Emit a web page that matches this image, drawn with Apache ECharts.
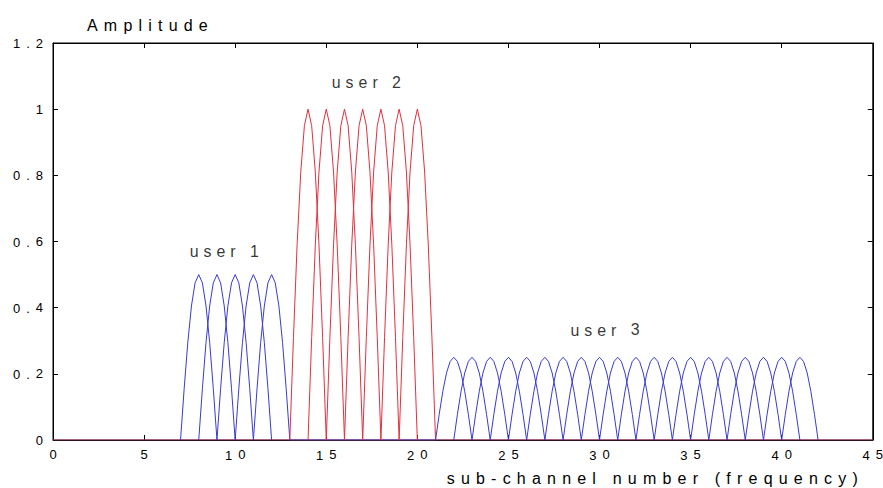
<!DOCTYPE html>
<html>
<head>
<meta charset="utf-8">
<script src="https://cdn.jsdelivr.net/npm/echarts@6/dist/echarts.min.js"></script>
<style>
  html, body { margin: 0; padding: 0; background: #fff; }
  #chart { width: 883px; height: 488px; }
</style>
</head>
<body>
<div id="chart"></div>
<script>
// ---- data ----
const xTicks = [0, 5, 10, 15, 20, 25, 30, 35, 40, 45];
const yTicks = [0, 0.2, 0.4, 0.6, 0.8, 1, 1.2];
// one sub-channel lobe: offsets from its centre and relative height
const lobeOffsets = [-1, -0.8, -0.6, -0.4, -0.2, 0, 0.2, 0.4, 0.6, 0.8, 1];
const lobeShape   = [0, 0.31, 0.59, 0.81, 0.95, 1, 0.95, 0.81, 0.59, 0.31, 0];
const user1Centers = [8, 9, 10, 11, 12];
const user1Amp = 0.5;
const user2Centers = [14, 15, 16, 17, 18, 19, 20];
const user2Amp = 1.0;
const user3Centers = [22, 23, 24, 25, 26, 27, 28, 29, 30, 31, 32, 33, 34, 35, 36, 37, 38, 39, 40, 41];
const user3Amp = 0.25;
const baselineX = [0, 45];
const baselineUnderUser2X = [13, 21];
const userLabels = ['user 1', 'user 2', 'user 3'];
const userLabelX = [9.4, 17.2, 30.3];
const userLabelY = [0.57, 1.082, 0.333];
const xName = 'sub-channel number (frequency)';
const yName = 'Amplitude';

// ---- styles ----
const BLUE = '#3a3ad2';
const RED = '#e2303c';
const BASE = '#c8457c';
const FONT = 'Liberation Sans, Arial, sans-serif';

function lobe(center, amp) {
  return lobeOffsets.map((o, i) => [center + o, amp * lobeShape[i]]);
}
function lobeSeries(centers, amp, color) {
  return centers.map(c => ({
    type: 'line', data: lobe(c, amp), showSymbol: false, silent: true,
    lineStyle: { color: color, width: 1 }, itemStyle: { color: color }
  }));
}

const series = [];
series.push({ type: 'line', data: baselineX.map(x => [x, 0]), showSymbol: false, silent: true,
  lineStyle: { color: BASE, width: 1.2 } });
series.push({ type: 'line', data: baselineUnderUser2X.map(x => [x, 0]), showSymbol: false, silent: true,
  lineStyle: { color: '#5a50c8', width: 1.2 } });
series.push(...lobeSeries(user1Centers, user1Amp, BLUE));
series.push(...lobeSeries(user2Centers, user2Amp, RED));
series.push(...lobeSeries(user3Centers, user3Amp, BLUE));
series.push({
  type: 'scatter', symbolSize: 0, silent: true, xAxisIndex: 1, yAxisIndex: 1,
  data: userLabels.map((t, i) => ({ name: t, value: [userLabelX[i], userLabelY[i]] })),
  label: { show: true, position: 'inside', formatter: '{b}', color: '#000', fontSize: 15.9, fontFamily: FONT }
});

const axisCommon = {
  axisLine: { show: true, onZero: false, lineStyle: { color: '#000', width: 1 } },
  axisTick: { show: true, inside: true, length: 5, lineStyle: { color: '#000' } },
  splitLine: { show: false }
};

const option = {
  animation: false,
  backgroundColor: '#fff',
  grid: { left: 53, right: 10, top: 43, bottom: 48, containLabel: false,
          show: true, borderColor: '#000', borderWidth: 1, backgroundColor: 'transparent' },
  xAxis: [
    Object.assign({
      type: 'value', min: xTicks[0], max: xTicks[xTicks.length - 1], interval: xTicks[1] - xTicks[0],
      position: 'bottom',
      name: xName, nameLocation: 'end', nameGap: -15,
      nameTextStyle: { fontSize: 16, color: '#000', fontFamily: FONT, align: 'right', verticalAlign: 'top', padding: [30, 0, 0, 0] },
      axisLabel: { color: '#000', fontSize: 13, fontFamily: FONT, margin: 8 }
    }, axisCommon),
    Object.assign({
      type: 'value', min: xTicks[0], max: xTicks[xTicks.length - 1], interval: xTicks[1] - xTicks[0],
      position: 'top', axisLabel: { show: false }
    }, axisCommon)
  ],
  yAxis: [
    Object.assign({
      type: 'value', min: yTicks[0], max: yTicks[yTicks.length - 1], interval: 0.2,
      position: 'left',
      name: yName, nameLocation: 'end', nameGap: 10,
      nameTextStyle: { fontSize: 16, color: '#000', fontFamily: FONT, align: 'left', verticalAlign: 'bottom', padding: [0, 0, 0, 34] },
      axisLabel: { color: '#000', fontSize: 13, fontFamily: FONT, margin: 10,
        formatter: v => String(Math.round(v * 10) / 10) }
    }, axisCommon),
    Object.assign({
      type: 'value', min: yTicks[0], max: yTicks[yTicks.length - 1], interval: 0.2,
      position: 'right', axisLabel: { show: false }
    }, axisCommon)
  ],
  series: series
};

const chart = echarts.init(document.getElementById('chart'), null, { renderer: 'svg' });
chart.setOption(option);

// widen the letter spacing between characters (no trailing space after the last one),
// as in the reference typesetting
const SVGNS = 'http://www.w3.org/2000/svg';
document.querySelectorAll('#chart text').forEach(t => {
  const s = t.textContent;
  if (!s || s.length < 2) return;
  const fs = parseFloat(getComputedStyle(t).fontSize);
  const sp = fs < 14 ? 6 : (fs < 15.95 ? 5 : 6.2);
  t.textContent = '';
  const head = document.createElementNS(SVGNS, 'tspan');
  head.textContent = s.slice(0, -1);
  head.style.letterSpacing = sp + 'px';
  t.appendChild(head);
  t.appendChild(document.createTextNode(s.slice(-1)));
});
</script>
</body>
</html>
